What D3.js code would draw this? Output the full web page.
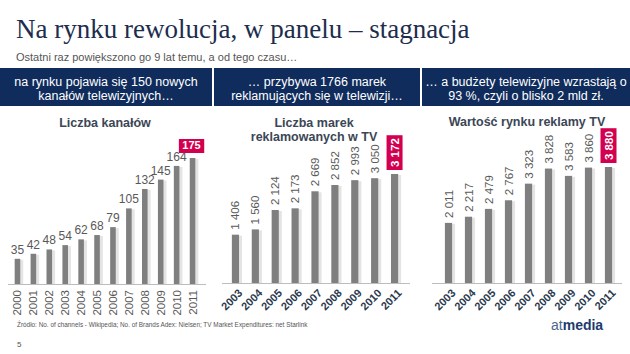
<!DOCTYPE html>
<html>
<head>
<meta charset="utf-8">
<script src="https://cdn.jsdelivr.net/npm/d3@7"></script>
<style>
  body { margin: 0; background: #fff; }
  svg { display: block; font-family: "Liberation Sans", Arial, sans-serif; }
</style>
</head>
<body>
<div class="slide"></div>
<script>
// ---- data ----
const channelYears = ["2000", "2001", "2002", "2003", "2004", "2005", "2006", "2007", "2008", "2009", "2010", "2011"];
const channelCounts = [35, 42, 48, 54, 62, 68, 79, 105, 132, 145, 164, 175];

const brandYears = ["2003", "2004", "2005", "2006", "2007", "2008", "2009", "2010", "2011"];
const brandCounts = [1406, 1560, 2124, 2173, 2669, 2852, 2993, 3050, 3172];

const marketYears = ["2003", "2004", "2005", "2006", "2007", "2008", "2009", "2010", "2011"];
const marketValues = [2011, 2217, 2479, 2767, 3323, 3828, 3583, 3860, 3880];

const bannerTexts = [
  ["na rynku pojawia się 150 nowych", "kanałów telewizyjnych…"],
  ["… przybywa 1766 marek", "reklamujących się w telewizji…"],
  ["… a budżety telewizyjne wzrastają o", "93 %, czyli o blisko 2 mld zł."]
];
const chartTitles = [["Liczba kanałów"], ["Liczba marek", "reklamowanych w TV"], ["Wartość rynku reklamy TV"]];

const width = 630, height = 354;
const navy = "#0f2c5c";
const barColor = "#7f7f7f";
const labelColor = "#595959";
const accent = "#d3004f";

const pl = d3.formatLocale({ decimal: ",", thousands: " ", grouping: [3], currency: ["", " zł"] });
const fmt = pl.format(",");

const svg = d3.select(".slide").append("svg")
  .attr("width", width).attr("height", height);

// title + subtitle
svg.append("text")
  .attr("x", 16).attr("y", 38)
  .style("font-family", "'Liberation Serif', 'DejaVu Serif', serif")
  .style("font-size", "27px")
  .attr("fill", "#1c2d4d")
  .text("Na rynku rewolucja, w panelu – stagnacja");

svg.append("text")
  .attr("x", 16).attr("y", 61)
  .style("font-size", "11px")
  .attr("fill", "#555")
  .text("Ostatni raz powiększono go 9 lat temu, a od tego czasu…");

// ---- banner ----
const bannerX = [0, 214, 422];
const bannerW = [212, 206, 208];
bannerTexts.forEach((lines, i) => {
  svg.append("rect")
    .attr("x", bannerX[i]).attr("y", 68)
    .attr("width", bannerW[i]).attr("height", 38)
    .attr("fill", navy);
  lines.forEach((t, j) => {
    svg.append("text")
      .attr("x", bannerX[i] + bannerW[i] / 2)
      .attr("y", 86 + j * 14)
      .attr("text-anchor", "middle")
      .attr("fill", "#fff")
      .style("font-size", "12.5px")
      .text(t);
  });
});

// ---- charts ----
function drawPanel(cfg) {
  const g = svg.append("g");
  const x = d3.scaleBand().domain(cfg.years).range(cfg.xRange).paddingInner(cfg.pad).paddingOuter(cfg.pad / 2);
  const y = d3.scaleLinear().domain([0, d3.max(cfg.values)]).range([cfg.base, cfg.top]);
  const bw = x.bandwidth();
  const cx = (d) => x(d) + bw / 2;

  // title
  cfg.title.forEach((t, j) => {
    g.append("text")
      .attr("x", cfg.titleX).attr("y", cfg.titleY + j * 14)
      .attr("text-anchor", "middle")
      .attr("fill", "#3b4656")
      .style("font-size", "12.5px")
      .style("font-weight", "bold")
      .text(t);
  });

  const rows = cfg.years.map((yr, i) => ({ year: yr, value: cfg.values[i], last: i === cfg.years.length - 1 }));

  // value labels (drawn first so the bars sit over them)
  if (!cfg.rotated) {
    g.selectAll(".val").data(rows.filter((d) => !d.last)).enter()
      .append("text")
      .attr("x", (d) => cx(d.year))
      .attr("y", (d) => y(d.value) - 5)
      .attr("text-anchor", "middle")
      .attr("fill", labelColor)
      .style("font-size", "12px")
      .text((d) => fmt(d.value));
  } else {
    g.selectAll(".val").data(rows.filter((d) => !d.last)).enter()
      .append("text")
      .attr("transform", (d) => `translate(${cx(d.year)},${y(d.value) - 5}) rotate(-90)`)
      .attr("dy", "0.35em")
      .attr("fill", labelColor)
      .style("font-size", "11.5px")
      .text((d) => fmt(d.value));
  }

  // axis line
  g.append("line")
    .attr("x1", cfg.axisX[0]).attr("x2", cfg.axisX[1])
    .attr("y1", cfg.base + 0.5).attr("y2", cfg.base + 0.5)
    .attr("stroke", "#bdbdbd");

  // bar shadows + bars
  g.selectAll(".shadow").data(rows).enter()
    .append("rect")
    .attr("x", (d) => x(d.year) + 1.5)
    .attr("y", (d) => y(d.value) + 1)
    .attr("width", bw + 1.5)
    .attr("height", (d) => cfg.base - y(d.value) - 1)
    .attr("fill", "#e4e4e4");
  g.selectAll(".bar").data(rows).enter()
    .append("rect")
    .attr("x", (d) => x(d.year))
    .attr("y", (d) => y(d.value))
    .attr("width", bw)
    .attr("height", (d) => cfg.base - y(d.value))
    .attr("fill", barColor);

  // highlighted last value
  const last = rows[rows.length - 1];
  if (!cfg.rotated) {
    const t = g.append("text")
      .attr("x", cx(last.year) - 1)
      .attr("y", y(last.value) - 9)
      .attr("text-anchor", "middle")
      .attr("fill", "#fff")
      .style("font-size", "11px")
      .style("font-weight", "bold")
      .text(fmt(last.value));
    const w = t.node().getComputedTextLength() + 7;
    g.insert("rect", "text:last-child")
      .attr("x", cx(last.year) - 1 - w / 2)
      .attr("y", y(last.value) - 19)
      .attr("width", w).attr("height", 14)
      .attr("fill", accent);
  } else {
    const lg = g.append("g")
      .attr("transform", `translate(${cx(last.year)},${y(last.value) - 4}) rotate(-90)`);
    const box = lg.append("rect").attr("fill", accent);
    const t = lg.append("text")
      .attr("x", 3)
      .attr("dy", "0.35em")
      .attr("fill", "#fff")
      .style("font-size", "11.5px")
      .style("font-weight", "bold")
      .text(fmt(last.value));
    const w = t.node().getComputedTextLength() + 6;
    box.attr("x", 0).attr("y", -8).attr("width", w).attr("height", 16);
  }

  // year labels
  if (!cfg.rotated) {
    g.selectAll(".yr").data(rows).enter()
      .append("text")
      .attr("transform", (d) => `translate(${cx(d.year)},${cfg.base + 6}) rotate(-90)`)
      .attr("dy", "0.35em")
      .attr("text-anchor", "end")
      .attr("fill", labelColor)
      .style("font-size", "11.5px")
      .text((d) => d.year);
  } else {
    g.selectAll(".yr").data(rows).enter()
      .append("text")
      .attr("transform", (d) => `translate(${cx(d.year) + 5},${cfg.base + 8}) rotate(-45)`)
      .attr("dy", "0.35em")
      .attr("text-anchor", "end")
      .attr("fill", "#2b3a4e")
      .style("font-size", "11px")
      .style("font-weight", "bold")
      .text((d) => d.year);
  }
}

drawPanel({
  years: channelYears, values: channelCounts, title: chartTitles[0],
  xRange: [9.5, 200.5], pad: 0.65, base: 284, top: 158,
  axisX: [8, 206], titleX: 105, titleY: 127, rotated: false
});
drawPanel({
  years: brandYears, values: brandCounts, title: chartTitles[1],
  xRange: [225.5, 404.5], pad: 0.64, base: 283, top: 174,
  axisX: [222, 410], titleX: 314, titleY: 127, rotated: true
});
drawPanel({
  years: marketYears, values: marketValues, title: chartTitles[2],
  xRange: [438.5, 618.5], pad: 0.64, base: 283, top: 167,
  axisX: [432, 622], titleX: 527, titleY: 126, rotated: true
});

// ---- footer ----
svg.append("text")
  .attr("x", 17).attr("y", 327)
  .attr("fill", "#555")
  .style("font-size", "6.4px")
  .text("Źródło: No. of channels -  Wikipedia; No. of Brands Adex: Nielsen; TV Market Expenditures: net Starlink");
svg.append("text")
  .attr("x", 17).attr("y", 347)
  .attr("fill", "#555")
  .style("font-size", "8px")
  .text("5");

const logo = svg.append("text")
  .attr("x", 551).attr("y", 330)
  .attr("fill", "#1d3a6e")
  .style("font-size", "14px");
logo.append("tspan").attr("fill", "#4a6790").text("at");
logo.append("tspan").style("font-weight", "bold").text("media");
</script>
</body>
</html>
